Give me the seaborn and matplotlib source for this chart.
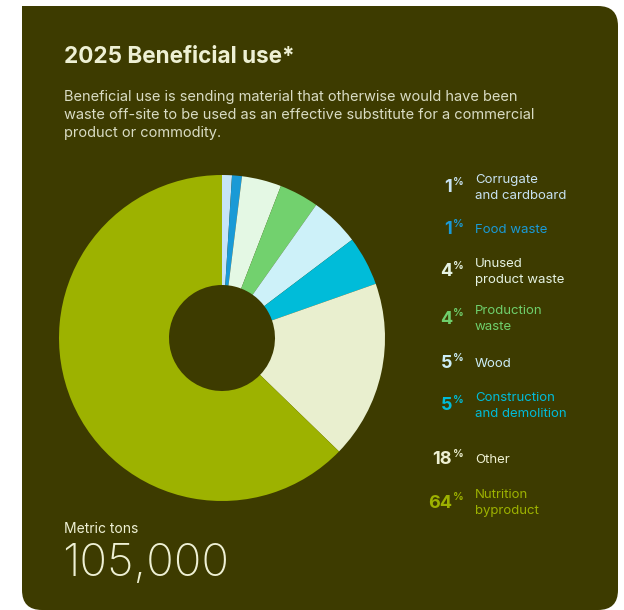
import matplotlib
matplotlib.use("Agg")
import matplotlib.pyplot as plt
import seaborn as sns
from matplotlib.patches import FancyBboxPatch, Rectangle

# Beneficial use breakdown (percent of total)
categories = ["Corrugate\nand cardboard", "Food waste", "Unused\nproduct waste",
              "Production\nwaste", "Wood", "Construction\nand demolition",
              "Other", "Nutrition\nbyproduct"]
shares = [1, 1, 4, 4, 5, 5, 18, 64]
slice_colors = ["#c6e4f7", "#1a9ad6", "#e4f8e4", "#72d16e",
                "#cdf1f9", "#00bcd9", "#e9efcf", "#9db200"]
label_colors = ["#c8e2f2", "#1a9ad6", "#e6f3e3", "#6fcf6c",
                "#cdeef7", "#00bcd9", "#eef0d2", "#9db200"]
total_tons = "105,000"

BG = "#3d3b00"
CREAM = "#eef0d4"

sns.set_theme(style="white")
plt.rcParams["font.family"] = ["Inter", "DejaVu Sans"]

W, H = 624, 610
fig = plt.figure(figsize=(W / 100, H / 100), dpi=100, facecolor="white")


def fx(x):
    return x / W


def fy(y):
    return 1 - y / H


# card background: rounded except the top-left corner
card = FancyBboxPatch((fx(22), fy(610)), fx(618) - fx(22), fy(6) - fy(610),
                      boxstyle="round,pad=0,rounding_size=0.032",
                      transform=fig.transFigure, facecolor=BG, edgecolor="none",
                      mutation_aspect=W / H, zorder=-5)
fig.patches.append(card)
fig.patches.append(Rectangle((fx(22), fy(60)), 0.06, fy(6) - fy(60),
                             transform=fig.transFigure, facecolor=BG,
                             edgecolor="none", zorder=-5))

# headings
fig.text(fx(64), fy(57), "2025 Beneficial use*", color=CREAM, fontsize=16.2,
         fontweight="bold", va="center", ha="left")
subtitle = ("Beneficial use is sending material that otherwise would have been\n"
            "waste off-site to be used as an effective substitute for a commercial\n"
            "product or commodity.")
fig.text(fx(64), fy(90), subtitle, color="#d9dcc4", fontsize=10.5,
         va="top", ha="left", linespacing=1.36)

# donut
cx, cy, r = 222, 338, 163
ax = fig.add_axes([fx(cx - r), fy(cy + r), 2 * r / W, 2 * r / H])
ax.set_zorder(3)
ax.set_facecolor("none")
ax.pie(shares, colors=sns.color_palette(slice_colors), startangle=90,
       counterclock=False, radius=1,
       wedgeprops=dict(width=1 - 53 / 163, linewidth=0))
ax.set_xlim(-1, 1)
ax.set_ylim(-1, 1)
ax.set_aspect("equal")
ax.axis("off")

# legend with percentages
num_y = [188, 230, 272, 319, 364, 406, 460, 503]
for cat, val, col, y in zip(categories, shares, label_colors, num_y):
    fig.text(fx(452), fy(y), f"{val}", color=col, fontsize=13,
             fontweight="bold", ha="right", va="center")
    fig.text(fx(452.5), fy(y - 6), "%", color=col, fontsize=7.5,
             fontweight="bold", ha="left", va="center")
    fig.text(fx(475), fy(y), cat, color=col, fontsize=9.5,
             ha="left", va="center", linespacing=1.45)

# total
fig.text(fx(64), fy(529), "Metric tons", color=CREAM, fontsize=10,
         ha="left", va="center")
fig.text(fx(62), fy(564), total_tons, color=CREAM, fontsize=33,
         fontweight="light", ha="left", va="center")

fig.savefig("out.png", dpi=100, facecolor="white")
